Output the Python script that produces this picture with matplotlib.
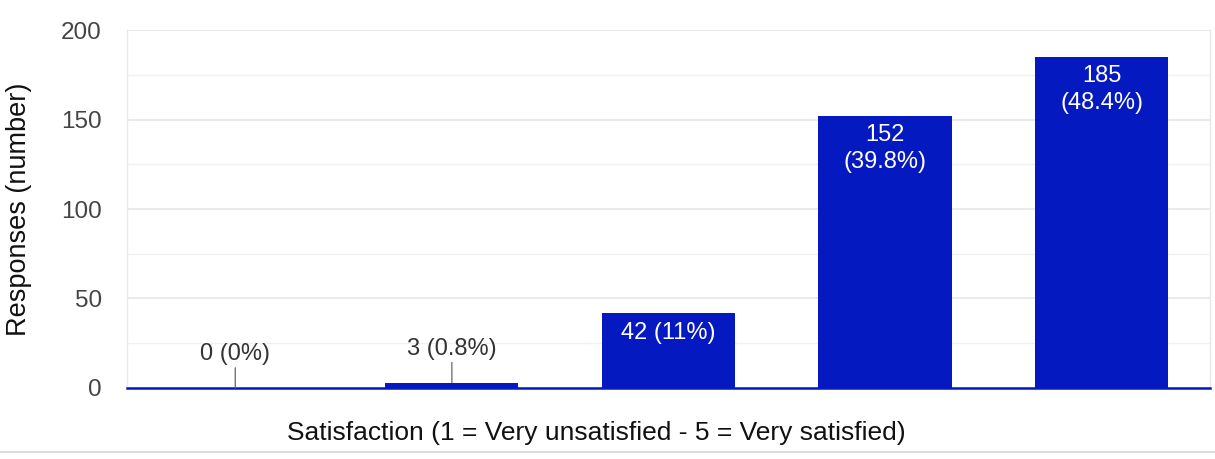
import matplotlib
matplotlib.use("Agg")
import matplotlib.pyplot as plt
from matplotlib.lines import Line2D

categories = ["1", "2", "3", "4", "5"]
counts = [0, 3, 42, 152, 185]
percents = [0, 0.8, 11, 39.8, 48.4]
y_ticks = [0, 50, 100, 150, 200]
y_label = "Responses (number)"
x_label = "Satisfaction (1 = Very unsatisfied - 5 = Very satisfied)"

BAR = "#0419c0"
plt.rcParams['font.family'] = ['Liberation Sans', 'DejaVu Sans']

fig = plt.figure(figsize=(12.15, 4.59), dpi=100)
ax = fig.add_axes([0.1045, 0.1547, 0.8914, 0.7799])

x = list(range(len(categories)))
ax.bar(x, counts, width=0.615, color=BAR, zorder=3)
ax.set_xlim(-0.5, len(categories) - 0.5)
ax.set_ylim(0, 200)

ax.set_yticks(y_ticks)
ax.set_yticks([25, 75, 125, 175], minor=True)
ax.tick_params(axis='y', which='both', length=0, labelsize=17.5, labelcolor='#444444', pad=18)
ax.set_xticks([])
ax.grid(axis='y', which='major', color='#e6e6e6', linewidth=1.2, zorder=0)
ax.grid(axis='y', which='minor', color='#f1f1f1', linewidth=1.0, zorder=0)

ax.spines['top'].set_visible(False)
for s in ['left', 'right']:
    ax.spines[s].set_color('#e8e8e8')
    ax.spines[s].set_linewidth(1.0)
ax.spines['bottom'].set_color(BAR)
ax.spines['bottom'].set_linewidth(1.8)
ax.spines['bottom'].set_zorder(4)

for xi, v, p in zip(x, counts, percents):
    txt_inline = f"{v} ({p:g}%)"
    if v < 20:
        ax.annotate(txt_inline, xy=(xi, v), xytext=(xi, v + 19),
                    ha='center', va='center', fontsize=17, color='#333333',
                    arrowprops=dict(arrowstyle='-', color='#666666', lw=0.9,
                                    shrinkA=0, shrinkB=0,
                                    relpos=(0.5, 0.0)), zorder=5)
    elif v < 100:
        ax.text(xi, v - 5, txt_inline, ha='center', va='top', fontsize=17,
                color='white', zorder=5)
    else:
        ax.text(xi, v - 4.5, f"{v}\n({p:g}%)", ha='center', va='top', fontsize=17,
                color='white', zorder=5, linespacing=1.28)

ax.set_ylabel(y_label, fontsize=19.5, color='#111111')
ax.yaxis.set_label_coords(-0.088, 0.5)
fig.text(0.4905, 0.057, x_label, ha='center', va='center', fontsize=19, color='#111111')

fig.add_artist(Line2D([0, 1], [0.015, 0.015], color='#dddddd', lw=1.5, transform=fig.transFigure))

fig.savefig("out.png", dpi=100, facecolor='white')
